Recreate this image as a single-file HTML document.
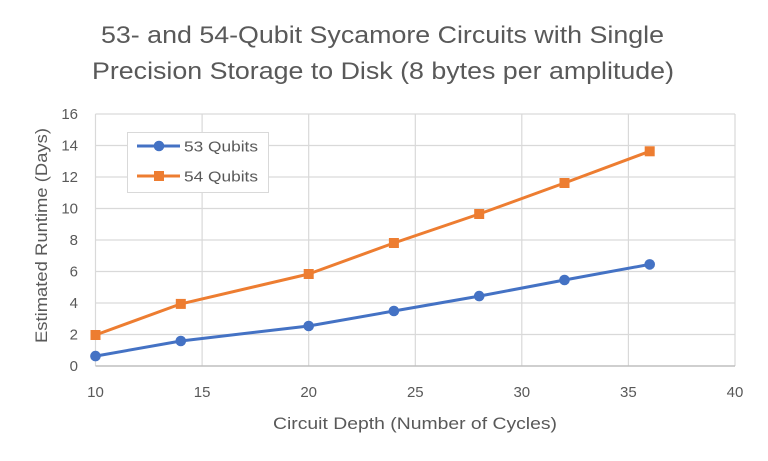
<!DOCTYPE html>
<html><head><meta charset="utf-8"><style>
html,body{margin:0;padding:0;background:#fff;}
svg{display:block;}
text{font-family:"Liberation Sans",sans-serif;fill:#595959;}
</style></head><body>
<svg width="768" height="461" viewBox="0 0 768 461" xmlns="http://www.w3.org/2000/svg">
<rect width="768" height="461" fill="#fff"/>
<text x="101" y="43" font-size="24" textLength="563" lengthAdjust="spacingAndGlyphs">53- and 54-Qubit Sycamore Circuits with Single</text>
<text x="92" y="79" font-size="24" textLength="582" lengthAdjust="spacingAndGlyphs">Precision Storage to Disk (8 bytes per amplitude)</text>
<g stroke="#d9d9d9" stroke-width="1.2" fill="none">
<line x1="95.5" y1="334.5" x2="735" y2="334.5"/>
<line x1="95.5" y1="303" x2="735" y2="303"/>
<line x1="95.5" y1="271.5" x2="735" y2="271.5"/>
<line x1="95.5" y1="240" x2="735" y2="240"/>
<line x1="95.5" y1="208.5" x2="735" y2="208.5"/>
<line x1="95.5" y1="177" x2="735" y2="177"/>
<line x1="95.5" y1="145.5" x2="735" y2="145.5"/>
<line x1="95.5" y1="114" x2="735" y2="114"/>
<line x1="95.5" y1="114" x2="95.5" y2="366"/>
<line x1="202.1" y1="114" x2="202.1" y2="366"/>
<line x1="308.7" y1="114" x2="308.7" y2="366"/>
<line x1="415.3" y1="114" x2="415.3" y2="366"/>
<line x1="521.8" y1="114" x2="521.8" y2="366"/>
<line x1="628.4" y1="114" x2="628.4" y2="366"/>
<line x1="735" y1="114" x2="735" y2="366"/>
</g>
<line x1="95.5" y1="366" x2="735" y2="366" stroke="#bfbfbf" stroke-width="1.4"/>
<g font-size="15" text-anchor="end">
<text x="78" y="371">0</text>
<text x="78" y="339.5">2</text>
<text x="78" y="308">4</text>
<text x="78" y="276.5">6</text>
<text x="78" y="245">8</text>
<text x="78" y="213.5">10</text>
<text x="78" y="182">12</text>
<text x="78" y="150.5">14</text>
<text x="78" y="119">16</text>
</g>
<g font-size="15" text-anchor="middle">
<text x="95.5" y="397">10</text>
<text x="202.1" y="397">15</text>
<text x="308.7" y="397">20</text>
<text x="415.3" y="397">25</text>
<text x="521.8" y="397">30</text>
<text x="628.4" y="397">35</text>
<text x="735" y="397">40</text>
</g>
<text x="415" y="429" font-size="17" text-anchor="middle" textLength="284" lengthAdjust="spacingAndGlyphs">Circuit Depth (Number of Cycles)</text>
<text transform="translate(47,235.5) rotate(-90)" font-size="17" text-anchor="middle" textLength="215" lengthAdjust="spacingAndGlyphs">Estimated Runtime (Days)</text>
<polyline fill="none" stroke="#ed7d31" stroke-width="3" stroke-linejoin="round" points="95.5,335 180.8,303.9 308.7,274 393.9,243 479.2,214 564.5,183 649.7,151.3"/>
<g fill="#ed7d31">
<rect x="90.5" y="330" width="10" height="10"/>
<rect x="175.8" y="298.9" width="10" height="10"/>
<rect x="303.7" y="269" width="10" height="10"/>
<rect x="388.9" y="238" width="10" height="10"/>
<rect x="474.2" y="209" width="10" height="10"/>
<rect x="559.5" y="178" width="10" height="10"/>
<rect x="644.7" y="146.3" width="10" height="10"/>
</g>
<polyline fill="none" stroke="#4472c4" stroke-width="3" stroke-linejoin="round" points="95.5,356.1 180.8,341 308.7,326 393.9,311 479.2,296.1 564.5,280 649.7,264.4"/>
<g fill="#4472c4">
<circle cx="95.5" cy="356.1" r="5.3"/>
<circle cx="180.8" cy="341" r="5.3"/>
<circle cx="308.7" cy="326" r="5.3"/>
<circle cx="393.9" cy="311" r="5.3"/>
<circle cx="479.2" cy="296.1" r="5.3"/>
<circle cx="564.5" cy="280" r="5.3"/>
<circle cx="649.7" cy="264.4" r="5.3"/>
</g>
<rect x="127.5" y="132.5" width="141" height="60" fill="#fff" stroke="#d9d9d9" stroke-width="1"/>
<line x1="137" y1="146" x2="180" y2="146" stroke="#4472c4" stroke-width="3"/>
<circle cx="159" cy="146" r="5.3" fill="#4472c4"/>
<line x1="137" y1="176" x2="180" y2="176" stroke="#ed7d31" stroke-width="3"/>
<rect x="154" y="171" width="10" height="10" fill="#ed7d31"/>
<text x="184" y="151.5" font-size="15" textLength="74" lengthAdjust="spacingAndGlyphs">53 Qubits</text>
<text x="184" y="181.5" font-size="15" textLength="74" lengthAdjust="spacingAndGlyphs">54 Qubits</text>
</svg>
</body></html>
